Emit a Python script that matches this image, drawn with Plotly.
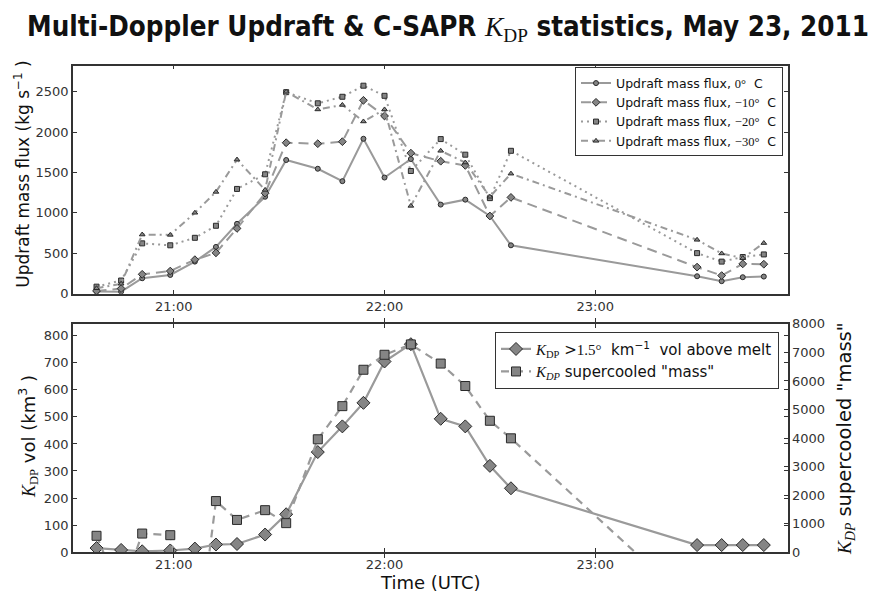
import plotly.graph_objects as go

# Observation times (UTC), May 23, 2011
times = ["20:38", "20:45", "20:51", "20:59", "21:06", "21:12", "21:18", "21:26",
         "21:32", "21:41", "21:48", "21:54", "22:00", "22:07:30", "22:16", "22:23",
         "22:30", "22:36", "23:29", "23:36", "23:42", "23:48"]
stamps = ["2011-05-23 " + t for t in times]

# Updraft mass flux (kg s^-1) at four temperature levels
flux_0c = [27, 25, 191, 232, 397, 579, 865, 1200, 1655, 1547, 1393, 1918, 1438, 1667,
           1103, 1164, 962, 599, 216, 155, 204, 212]
flux_m10 = [34, 63, 240, 280, 421, 506, 808, 1244, 1869, 1857, 1882, 2394, 2200, 1740,
            1640, 1588, 962, 1192, 329, 224, 369, 365]
flux_m20 = [87, 163, 623, 599, 692, 841, 1297, 1478, 2495, 2357, 2438, 2575, 2450, 1519,
            1914, 1721, 1183, 1769, 502, 397, 454, 486]
flux_m30 = [67, 123, 732, 728, 1002, 1260, 1660, 1285, 2500, 2281, 2337, 2132, 2281, 1087,
            1769, 1624, 1200, 1486, 667, 498, 440, 627]

# KDP volume above the melting level (km^3) and supercooled "mass"
kdp_vol = [15, 8, 3, 6, 13, 28, 30, 65, 140, 370, 465, 552, 705, 769,
           493, 465, 319, 236, 26, 26, 26, 26]
kdp_mass = [571, -1500, 650, 593, -4000, 1789, 1128, 1470, 1015, 3955, 5117, 6393, 6918, 7282,
            6610, 5823, 4604, 3989, -2000, -2000, -2000, -2000]

LINE = "#9a9a9a"
FILL = "#858585"
EDGE = "#2a2a2a"
AX = "#333333"
SERIF = "Liberation Serif"
FONT = "DejaVu Sans"


def m(txt, italic=True):
    style = f"font-family:'{SERIF}';font-weight:normal;"
    if italic:
        style += "font-style:italic;"
    return f"<span style=\"{style}\">{txt}</span>"


KDP = m("K") + "<sub>" + m("DP", italic=False) + "</sub>"
KDP_IT = m("K") + "<sub>" + m("DP") + "</sub>"

fig = go.Figure()

flux_series = [
    (flux_0c, "solid", "circle", 5, "Updraft mass flux, " + m("0°", False) + "  C"),
    (flux_m10, "10px,6px", "diamond", 6, "Updraft mass flux, " + m("−10°", False) + "  C"),
    (flux_m20, "2px,4px", "square", 5, "Updraft mass flux, " + m("−20°", False) + "  C"),
    (flux_m30, "7px,4px,2px,4px", "triangle-up", 5, "Updraft mass flux, " + m("−30°", False) + "  C"),
]
for vals, dash, sym, size, name in flux_series:
    fig.add_trace(go.Scatter(
        x=stamps, y=vals, name=name, mode="lines+markers",
        line=dict(color=LINE, width=2, dash=dash),
        marker=dict(symbol=sym, size=size, color=FILL, line=dict(color=EDGE, width=1)),
        xaxis="x", yaxis="y", legend="legend",
    ))

fig.add_trace(go.Scatter(
    x=stamps, y=kdp_vol, mode="lines+markers",
    name=KDP + " >" + m("1.5°", False) + "  km<sup>−1</sup>  vol above melt",
    line=dict(color=LINE, width=2.2),
    marker=dict(symbol="diamond", size=10, color=FILL, line=dict(color=EDGE, width=1)),
    xaxis="x2", yaxis="y3", legend="legend2",
))
fig.add_trace(go.Scatter(
    x=stamps, y=kdp_mass, mode="lines+markers",
    name=KDP_IT + " supercooled \"mass\"",
    line=dict(color=LINE, width=2.2, dash="8px,6px"),
    marker=dict(symbol="square", size=9, color=FILL, line=dict(color=EDGE, width=1)),
    xaxis="x2", yaxis="y4", legend="legend2",
))

W, H = 872, 603
x0, x1 = 73 / W, 787.7 / W
top_dom = [1 - 294 / H, 1 - 60 / H]
bot_dom = [1 - 559 / H, 1 - 325 / H]
xrange_ = ["2011-05-23 20:31:18", "2011-05-23 23:54:48"]

axis_common = dict(
    showline=True, linecolor=AX, linewidth=1.5, mirror="allticks",
    ticks="inside", ticklen=4, tickcolor=AX, tickwidth=1,
    showgrid=False, zeroline=False,
    tickfont=dict(family=FONT, size=13, color=AX),
)

fig.update_layout(
    width=W, height=H,
    margin=dict(l=0, r=0, t=0, b=0),
    plot_bgcolor="white", paper_bgcolor="white",
    font=dict(family=FONT, color="#111111"),
    xaxis=dict(domain=[x0, x1], anchor="y", range=xrange_, type="date",
               tickformat="%H:%M", dtick=3600000, tick0="2011-05-23 21:00", **axis_common),
    yaxis=dict(domain=top_dom, anchor="x", range=[0, 2825], tickvals=[0, 500, 1000, 1500, 2000, 2500],
               **axis_common),
    xaxis2=dict(domain=[x0, x1], anchor="y3", range=xrange_, type="date",
                tickformat="%H:%M", dtick=3600000, tick0="2011-05-23 21:00", **axis_common),
    yaxis3=dict(domain=bot_dom, anchor="x2", range=[0, 844],
                tickvals=list(range(0, 801, 100)), **axis_common),
    yaxis4=dict(overlaying="y3", anchor="x2", side="right", range=[0, 8000],
                tickvals=list(range(0, 8001, 1000)),
                showline=True, linecolor=AX, linewidth=1.5, ticks="inside", ticklen=4,
                tickcolor=AX, showgrid=False, zeroline=False,
                tickfont=dict(family=FONT, size=13, color=AX)),
    legend=dict(x=575 / W, y=1 - 62 / H, xanchor="left", yanchor="top",
                bgcolor="white", bordercolor=AX, borderwidth=1,
                font=dict(family=FONT, size=12.5, color="#111111"),
                itemwidth=30, tracegroupgap=0),
    legend2=dict(x=495 / W, y=1 - 333 / H, xanchor="left", yanchor="top",
                 bgcolor="white", bordercolor=AX, borderwidth=1,
                 font=dict(family=FONT, size=15, color="#111111"),
                 itemwidth=30),
    showlegend=True,
)

annotations = [
    dict(text="Multi-Doppler Updraft &amp; C-SAPR " + m("K") + "<sub>" + m("DP", False) + "</sub> statistics, May 23, 2011",
         x=448 / W, y=1 - 22 / H, font=dict(family="DejaVu Sans Condensed", size=27.5, color="#111111", weight="bold")),
    dict(text="Updraft mass flux (kg s<sup>−1</sup> )", x=22 / W, y=1 - 172 / H, textangle=-90,
         font=dict(family=FONT, size=17, color="#111111")),
    dict(text=KDP + " vol (km<sup>3</sup> )", x=28 / W, y=1 - 441 / H, textangle=-90,
         font=dict(family=FONT, size=18, color="#111111")),
    dict(text=KDP_IT + " supercooled \"mass\"", x=846 / W, y=1 - 443 / H, textangle=-90,
         font=dict(family=FONT, size=19.5, color="#111111")),
    dict(text="Time (UTC)", x=430 / W, y=1 - 590 / H,
         font=dict(family=FONT, size=18, color="#111111")),
]
for a in annotations:
    a.update(xref="paper", yref="paper", showarrow=False, xanchor="center", yanchor="middle")
fig.update_layout(annotations=annotations)

fig.write_html("out.html")
